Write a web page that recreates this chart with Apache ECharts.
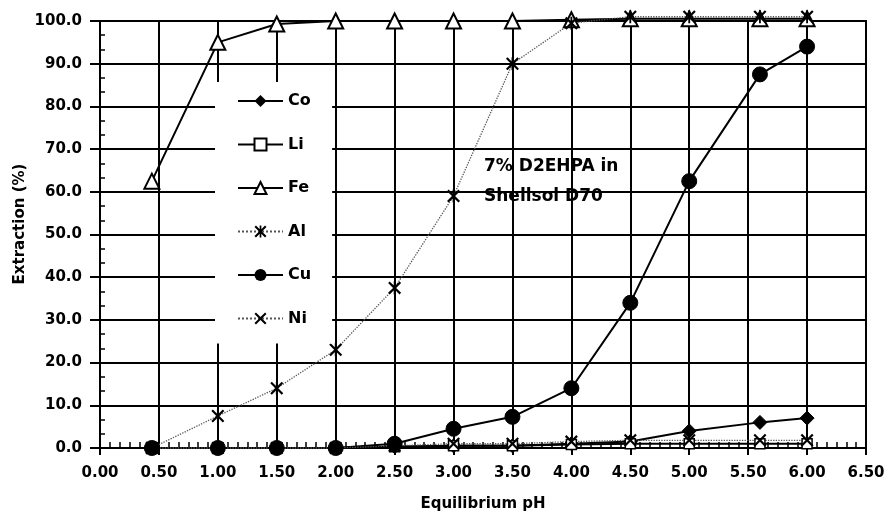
<!DOCTYPE html>
<html>
<head>
<meta charset="utf-8">
<script src="https://cdn.jsdelivr.net/npm/echarts@6/dist/echarts.min.js"></script>
<style>html,body{margin:0;padding:0;background:#fff}#c{width:894px;height:530px}</style>
</head>
<body>
<div id="c"></div>
<script>
const pH = [0.44, 1.0, 1.5, 2.0, 2.5, 3.0, 3.5, 4.0, 4.5, 5.0, 5.6, 6.0];
const Co = [0, 0, 0, 0, 0.3, 0.5, 0.5, 1, 1.5, 4, 6, 7];
const Li = [0, 0, 0, 0, 0.3, 0.5, 0.5, 0.8, 1, 1, 1, 1];
const Fe = [62.5, 95, 99.3, 100, 100, 100, 100, 100.3, 100.5, 100.5, 100.5, 100.5];
const Al = [0, 7.5, 14, 23, 37.5, 59, 90, 99.5, 101, 101, 101, 101];
const Cu = [0, 0, 0, 0, 1, 4.5, 7.3, 14, 34, 62.5, 87.5, 94];
const Ni = [0, 0, 0, 0, 0.5, 1, 1, 1.5, 1.8, 1.8, 1.8, 1.8];
const seriesNames = ['Co', 'Li', 'Fe', 'Al', 'Cu', 'Ni'];
const xTitle = 'Equilibrium pH';
const yTitle = 'Extraction (%)';
const note = '7% D2EHPA in\nShellsol D70';

const FONT = '"DejaVu Sans", Arial, sans-serif';
const pairs = arr => pH.map((x, i) => [x, arr[i]]);
const xShape = 'path://M0,1.2 L1.2,0 L5,3.8 L8.8,0 L10,1.2 L6.2,5 L10,8.8 L8.8,10 L5,6.2 L1.2,10 L0,8.8 L3.8,5 Z';
const starShape = 'path://M0,1.2 L1.2,0 L5,3.8 L8.8,0 L10,1.2 L6.2,5 L10,8.8 L8.8,10 L5,6.2 L1.2,10 L0,8.8 L3.8,5 Z M4.3,0 L5.7,0 L5.7,10 L4.3,10 Z';

const solid = { color: '#000', width: 2, type: 'solid' };
const dotted = { color: '#555', width: 1.3, type: 'dotted' };

const chart = echarts.init(document.getElementById('c'));
chart.setOption({
  animation: false,
  backgroundColor: '#fff',
  grid: { left: 100, right: 28, top: 21, bottom: 82, show: true, borderColor: '#000', borderWidth: 2, backgroundColor: 'transparent' },
  legend: {
    orient: 'vertical', left: 215, top: 82,
    padding: [11, 21, 17, 22],
    backgroundColor: '#fff',
    itemWidth: 45, itemHeight: 15, itemGap: 27.5,
    data: seriesNames,
    textStyle: { fontFamily: FONT, fontWeight: 'bold', fontSize: 16, color: '#000' }
  },
  xAxis: [{
    type: 'value', min: 0, max: 6.5, interval: 0.5,
    axisLine: { lineStyle: { color: '#000', width: 2 } },
    axisTick: { show: true, inside: true, length: 6, lineStyle: { color: '#000', width: 2 } },
    minorTick: { show: true, splitNumber: 6, length: 6, lineStyle: { color: '#000', width: 1.5 } },
    splitLine: { show: true, lineStyle: { color: '#000', width: 2 } },
    axisLabel: { margin: 18, formatter: v => v.toFixed(2), fontFamily: FONT, fontWeight: 'bold', fontSize: 15, color: '#000' },
    name: xTitle, nameLocation: 'middle', nameGap: 49,
    nameTextStyle: { fontFamily: FONT, fontWeight: 'bold', fontSize: 15, color: '#000' }
  }, {
    type: 'value', min: 0, max: 6.5, interval: 0.5, position: 'bottom',
    axisLine: { show: false }, splitLine: { show: false }, axisLabel: { show: false },
    axisTick: { show: true, length: 7, lineStyle: { color: '#000', width: 2 } }
  }],
  yAxis: [{
    type: 'value', min: 0, max: 100, interval: 10,
    axisLine: { show: true, lineStyle: { color: '#000', width: 2 } },
    axisTick: { show: true, inside: true, length: 5, lineStyle: { color: '#000', width: 2 } },
    minorTick: { show: true, splitNumber: 3, length: 5, lineStyle: { color: '#000', width: 1.5 } },
    splitLine: { show: true, lineStyle: { color: '#000', width: 2 } },
    axisLabel: { margin: 18, formatter: v => v.toFixed(1), fontFamily: FONT, fontWeight: 'bold', fontSize: 15, color: '#000' }
  }, {
    type: 'value', min: 0, max: 100, interval: 10, position: 'left',
    axisLine: { show: false }, splitLine: { show: false }, axisLabel: { show: false },
    axisTick: { show: true, length: 10, lineStyle: { color: '#000', width: 2 } }
  }],
  graphic: [
    { type: 'text', x: 20, y: 224, rotation: Math.PI / 2,
      style: { text: yTitle, font: 'bold 15px ' + FONT, fill: '#000', align: 'center', verticalAlign: 'middle' } },
    { type: 'text', left: 484, top: 152,
      style: { text: note, font: 'bold 17px ' + FONT, fill: '#000', lineHeight: 30 } }
  ],
  series: [
    { name: 'Co', type: 'line', data: pairs(Co), clip: false, symbol: 'diamond', symbolSize: 14,
      lineStyle: solid, itemStyle: { color: '#000', borderColor: '#000' } },
    { name: 'Li', type: 'line', data: pairs(Li), clip: false, symbol: 'rect', symbolSize: 10,
      lineStyle: solid, itemStyle: { color: '#fff', borderColor: '#000', borderWidth: 1.5 } },
    { name: 'Fe', type: 'line', data: pairs(Fe), clip: false, symbol: 'triangle', symbolSize: 15,
      lineStyle: solid, itemStyle: { color: '#fff', borderColor: '#000', borderWidth: 2 } },
    { name: 'Al', type: 'line', data: pairs(Al), clip: false, symbol: starShape, symbolSize: 13,
      lineStyle: dotted, itemStyle: { color: '#000', borderWidth: 0 } },
    { name: 'Cu', type: 'line', data: pairs(Cu), clip: false, symbol: 'circle', symbolSize: 15,
      lineStyle: solid, itemStyle: { color: '#000', borderColor: '#000' } },
    { name: 'Ni', type: 'line', data: pairs(Ni), clip: false, symbol: xShape, symbolSize: 13,
      lineStyle: dotted, itemStyle: { color: '#000', borderWidth: 0 } }
  ]
});
</script>
</body>
</html>
